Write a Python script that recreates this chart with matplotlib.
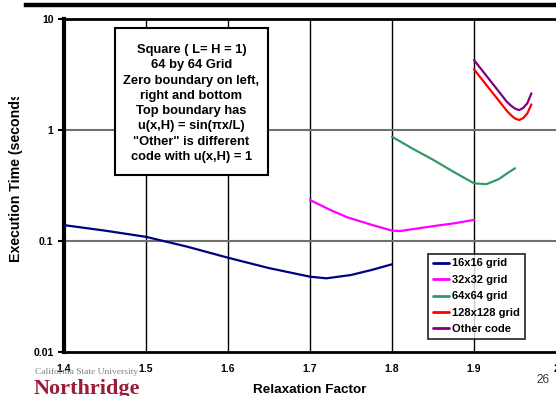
import matplotlib
matplotlib.use("Agg")
import matplotlib.pyplot as plt
from matplotlib.patches import Rectangle
from matplotlib.lines import Line2D
from matplotlib.transforms import Bbox, TransformedBbox

plt.rcParams['font.family'] = ['Liberation Sans', 'DejaVu Sans']

# ---- data ----
x16 = [1.40, 1.45, 1.50, 1.55, 1.60, 1.65, 1.70, 1.72, 1.75, 1.775, 1.80]
y16 = [0.139, 0.124, 0.109, 0.089, 0.0707, 0.057, 0.0477, 0.0461, 0.0494, 0.0548, 0.0617]

x32 = [1.70, 1.725, 1.745, 1.775, 1.80, 1.81, 1.85, 1.875, 1.90]
y32 = [0.234, 0.19, 0.164, 0.14, 0.124, 0.123, 0.136, 0.144, 0.155]

x64 = [1.80, 1.825, 1.85, 1.875, 1.90, 1.915, 1.93, 1.94, 1.95]
y64 = [0.87, 0.68, 0.54, 0.42, 0.331, 0.325, 0.36, 0.405, 0.452]

x128 = [1.90, 1.92, 1.94, 1.945, 1.95, 1.955, 1.96, 1.965, 1.97]
y128 = [3.52, 2.29, 1.49, 1.36, 1.27, 1.23, 1.28, 1.41, 1.70]

xoth = [1.90, 1.92, 1.94, 1.945, 1.95, 1.955, 1.96, 1.965, 1.97]
yoth = [4.27, 2.77, 1.80, 1.66, 1.56, 1.51, 1.58, 1.74, 2.14]

series = [
    ("16x16 grid", x16, y16, "#000080"),
    ("32x32 grid", x32, y32, "#FF00FF"),
    ("64x64 grid", x64, y64, "#339966"),
    ("128x128 grid", x128, y128, "#FF0000"),
    ("Other code", xoth, yoth, "#800080"),
]

xticks = [1.4, 1.5, 1.6, 1.7, 1.8, 1.9, 2.0]
xticklabels = ["1.4", "1.5", "1.6", "1.7", "1.8", "1.9", "2"]
yticks = [0.01, 0.1, 1, 10]
yticklabels = ["0.01", "0.1", "1", "10"]

W, H = 556, 396
fig = plt.figure(figsize=(W / 100, H / 100), dpi=100)
fig.patch.set_facecolor("white")

def fx(px):
    return px / W

def fy(py):
    return 1 - py / H

ax = fig.add_axes([fx(64), fy(352), fx(556) - fx(64), fy(19) - fy(352)])
ax.set_yscale("log")
ax.set_xlim(1.4, 2.0)
ax.set_ylim(0.01, 10)

# grid
for xv in xticks[1:-1]:
    ax.axvline(xv, color="black", lw=1.0, zorder=1)
for yv in [0.1, 1]:
    ax.axhline(yv, color="#707070", lw=1.5, zorder=1)

for name, xs, ys, c in series:
    ax.plot(xs, ys, color=c, lw=1.6, label=name, zorder=3,
            solid_capstyle="round", solid_joinstyle="round")

ax.set_xticks(xticks)
ax.set_xticklabels(xticklabels, fontsize=7.5, fontweight="bold")
ax.set_yticks(yticks)
ax.set_yticklabels(yticklabels, fontsize=7.5, fontweight="bold")
ax.yaxis.set_minor_locator(matplotlib.ticker.NullLocator())
ax.tick_params(axis="x", length=0, pad=9)
ax.tick_params(axis="y", length=4, width=1.5, pad=3.5)

ax.spines["left"].set_linewidth(3)
ax.spines["bottom"].set_linewidth(2)
ax.spines["top"].set_linewidth(2)
ax.spines["right"].set_visible(False)

leg = ax.legend(loc="upper left", bbox_to_anchor=(fx(427.5), fy(253.5)),
                bbox_transform=fig.transFigure,
                prop={"size": 8, "weight": "bold"}, fancybox=False,
                frameon=True, edgecolor="black", handlelength=1.5,
                handletextpad=0.3, labelspacing=0.58, borderpad=0.45,
                borderaxespad=0)
leg.get_frame().set_linewidth(1.3)
for lh in leg.get_lines():
    lh.set_linewidth(2)

# annotation box
fig.add_artist(Rectangle((fx(115), fy(175)), fx(268) - fx(115), fy(28) - fy(175),
                         transform=fig.transFigure, facecolor="white",
                         edgecolor="black", lw=1.5, zorder=5))
box_text = ("Square ( L= H = 1)\n64 by 64 Grid\nZero boundary on left,\n"
            "right and bottom\nTop boundary has\nu(x,H) = sin(\u03c0x/L)\n"
            "\"Other\" is different\ncode with u(x,H) = 1")
fig.text(fx(191.5), fy(103.5), box_text, ha="center", va="center",
         fontsize=9.3, fontweight="bold", linespacing=1.37, zorder=6)

# y label (clipped like in the reference)
yl = fig.text(fx(16), fy(175), "Execution Time (seconds)", rotation=90,
              ha="center", va="center", fontsize=10.2, fontweight="bold")
yl.set_clip_box(TransformedBbox(Bbox([[0, 0], [1, fy(97)]]), fig.transFigure))
yl.set_clip_on(True)

fig.text(fx(310), fy(390), "Relaxation Factor", ha="center", va="center",
         fontsize=9.7, fontweight="bold")

# slide decorations
fig.add_artist(Line2D([fx(26), 1.0], [fy(5), fy(5)], transform=fig.transFigure,
                      color="black", lw=3.2))
fig.text(fx(543), fy(380), "26", ha="center", va="center", fontsize=8.5,
         color="#333333")
fig.text(fx(35), fy(372), "California State University", ha="left",
         va="center", fontsize=6.8, color="#808080",
         family=["Liberation Serif", "DejaVu Serif"])
fig.text(fx(34), fy(389), "Northridge", ha="left", va="center",
         fontsize=16, fontweight="bold", color="#9B1B3A",
         family=["Liberation Serif", "DejaVu Serif"])

fig.savefig("out.png", dpi=100)
